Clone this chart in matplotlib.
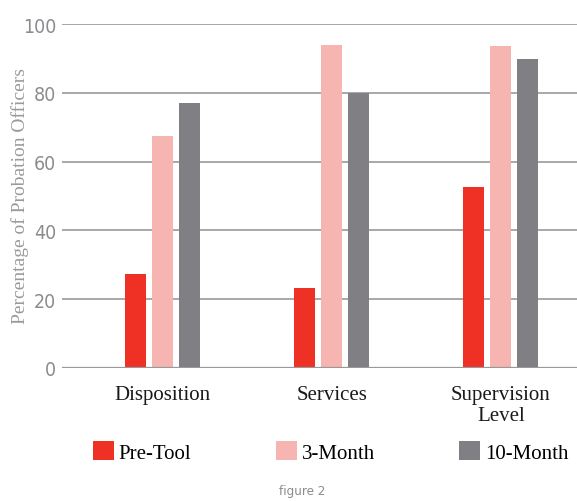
import matplotlib
matplotlib.use("Agg")
import matplotlib.pyplot as plt
import numpy as np

categories = ["Disposition", "Services", "Supervision\nLevel"]
series_names = ["Pre-Tool", "3-Month", "10-Month"]
pre_tool = [27.3, 23.3, 52.6]
three_month = [67.4, 93.9, 93.5]
ten_month = [77.0, 80.0, 89.8]
yticks = [0, 20, 40, 60, 80, 100]

RED = "#EE3124"; PINK = "#F6B5B0"; GREY = "#808084"
TICK = "#8C8C90"; GRID = "#A8A8AA"
SERIF = ["Liberation Serif", "DejaVu Serif"]

fig = plt.figure(figsize=(5.77, 5.02), dpi=100)
fig.patch.set_facecolor("white")
ax = fig.add_axes([62/577, 1-369/502, 1-62/577, (369-25)/502])

x = np.arange(len(categories))
w = 0.124
step = 0.16
bars = []
for i, (vals, col) in enumerate(zip([pre_tool, three_month, ten_month], [RED, PINK, GREY])):
    bars.append(ax.bar(x + (i-1)*step, vals, width=w, color=col, zorder=3, label=series_names[i]))

ax.set_xlim(-0.595, 2.45)
ax.set_ylim(0, 100)
ax.set_yticks(yticks)
ax.yaxis.grid(True, color=GRID, lw=1.4, zorder=0)
ax.set_axisbelow(True)
for s in ax.spines.values():
    s.set_visible(False)
ax.axhline(0, color="#999999", lw=1.6, zorder=4)
ax.tick_params(axis="y", length=0, pad=4, labelsize=14, labelcolor=TICK)
for t in ax.get_yticklabels():
    t.set_family("DejaVu Sans")
    t.set_stretch("condensed")
ax.set_xticks(x)
ax.set_xticklabels(categories, family=SERIF, fontsize=15, color="#1a1a1a", linespacing=1.2, va="top")
ax.tick_params(axis="x", length=0, pad=12)

fig.text(20/577, 1-196/502, "Percentage of Probation Officers", rotation=90, ha="center", va="center",
         family=SERIF, fontsize=14, color="#9A9A9C")

leg = fig.legend(handles=bars, labels=series_names, loc="center left", bbox_to_anchor=(74/577, 1-453/502),
                 ncol=3, frameon=False, prop={"family": SERIF, "size": 15},
                 handlelength=1.0, handleheight=1.0, handletextpad=0.25, columnspacing=4.05)

fig.text(302/577, 1-492/502, "figure 2", ha="center", va="center", family="DejaVu Sans",
         stretch="condensed", fontsize=9.5, color="#8C8C90")

fig.savefig("out.png", dpi=100, facecolor="white")
